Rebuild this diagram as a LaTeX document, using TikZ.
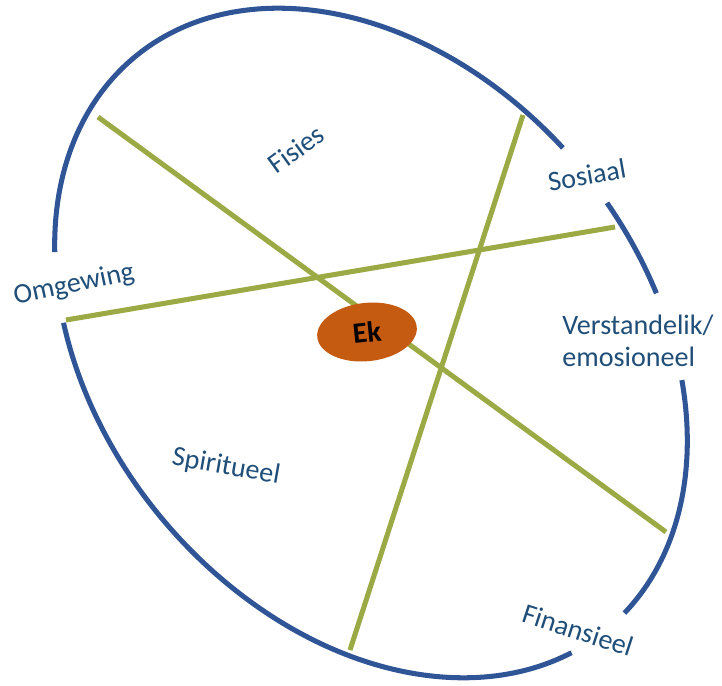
\documentclass[tikz,border=0pt]{standalone}
\usepackage{fontspec}
\setmainfont{Carlito}
\usetikzlibrary{shapes.geometric}

\definecolor{ringblue}{RGB}{47,85,151}
\definecolor{spokegreen}{RGB}{155,170,68}
\definecolor{ekorange}{RGB}{197,90,17}
\definecolor{labelblue}{RGB}{31,78,121}

\begin{document}
\begin{tikzpicture}[x=0.3mm, y=0.3mm,
  ring/.style={draw=ringblue, line width=4.3pt},
  spoke/.style={draw=spokegreen, line width=4.3pt},
  area/.style={text=labelblue, font=\fontsize{24}{27}\selectfont, inner sep=0pt},
  self/.style={ellipse, fill=ekorange, minimum width=30mm, minimum height=17.5mm,
               inner sep=0pt, font=\fontsize{25}{28}\selectfont\bfseries},
]
\useasboundingbox (0,0) rectangle (722,-685);

% outer ring, broken where the labels sit
\begin{scope}[shift={(371,-343)}, rotate=-50.5]
  \draw[ring] (5:371 and 273) arc[start angle=5, end angle=52.4, x radius=371, y radius=273];
  \draw[ring] (67.3:371 and 273) arc[start angle=67.3, end angle=83.5, x radius=371, y radius=273];
  \draw[ring] (94.4:371 and 273) arc[start angle=94.4, end angle=223, x radius=371, y radius=273];
  \draw[ring] (235.3:371 and 273) arc[start angle=235.3, end angle=351.1, x radius=371, y radius=273];
\end{scope}

\coordinate (nw) at (98,-117);
\coordinate (se) at (666,-532);
\coordinate (w) at (66,-320);
\coordinate (ne) at (615,-227);
\coordinate (n) at (523,-115);
\coordinate (s) at (350,-650);

\draw[spoke] (nw) -- (se);
\draw[spoke] (w) -- (ne);
\draw[spoke] (n) -- (s);

\node[self, rotate=6] (ek) at (367,-332) {Ek};

\node[area, rotate=36] (fisies) at (296,-149) {Fisies};
\node[area, rotate=10] (sosiaal) at (587,-175) {Sosiaal};
\node[area, rotate=12] (omgewing) at (74,-285) {Omgewing};
\node[area, align=left] (verstand) at (638,-341) {Verstandelik/\\emosioneel};
\node[area, rotate=-10] (spiritueel) at (226,-467) {Spiritueel};
\node[area, rotate=-18] (finansieel) at (578,-630) {Finansieel};

\end{tikzpicture}
\end{document}
